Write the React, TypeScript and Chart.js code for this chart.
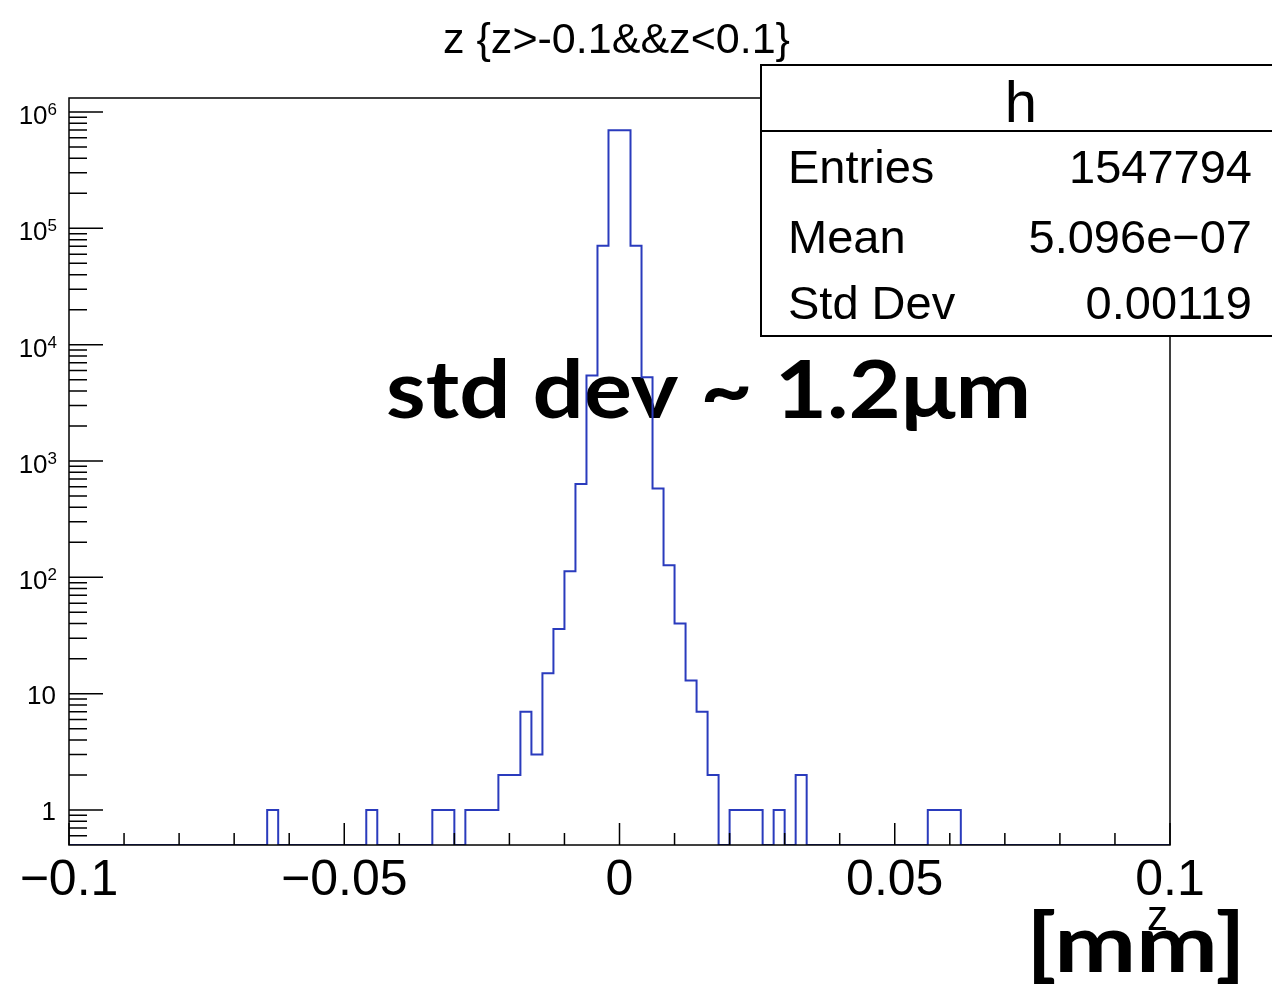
import React, { useEffect, useRef } from 'react';
import { Chart, registerables } from 'chart.js';

Chart.register(...registerables);

// ---- data ----
const X_MIN = -0.1;
const X_MAX = 0.1;
const BIN_WIDTH = 0.002;
const Y_MIN = 0.5;
const Y_MAX = 1.32e6;

const binCounts = [
  0, 0, 0, 0, 0, 0, 0, 0, 0, 0,
  0, 0, 0, 0, 0, 0, 0, 0, 1, 0,
  0, 0, 0, 0, 0, 0, 0, 1, 0, 0,
  0, 0, 0, 1, 1, 0, 1, 1, 1, 2,
  2, 7, 3, 15, 36, 113, 635, 5420, 71000, 697000,
  697000, 71000, 5250, 579, 127, 40, 13, 7, 2, 0,
  1, 1, 1, 0, 1, 0, 2, 0, 0, 0,
  0, 0, 0, 0, 0, 0, 0, 0, 1, 1,
  1, 0, 0, 0, 0, 0, 0, 0, 0, 0,
  0, 0, 0, 0, 0, 0, 0, 0, 0, 0,
];

const xMajorTicks = [-0.1, -0.05, 0, 0.05, 0.1];
const xMajorLabels = ['\u22120.1', '\u22120.05', '0', '0.05', '0.1'];
const xMinorStep = 0.01;

const yMajorTicks = [1, 10, 100, 1000, 10000, 100000, 1000000];
const yLabelBase = ['1', '10', '10', '10', '10', '10', '10'];
const yLabelExp = ['', '', '2', '3', '4', '5', '6'];

const titleText = 'z {z>-0.1&&z<0.1}';
const xAxisTitle = 'z';
const statsTitle = 'h';
const statsNames = ['Entries', 'Mean', 'Std Dev'];
const statsValues = ['1547794', '5.096e\u221207', '0.00119'];
const annotationText = 'std dev ~ 1.2\u03bcm';
const unitText = '[mm]';

const ROOT_FONT = '"Liberation Sans", Arial, Helvetica, sans-serif';
const BOLD_FONT = 'Lato, "Open Sans", "DejaVu Sans", sans-serif';
const LINE_COLOR = '#2a3bbd';

function fitText(ctx: CanvasRenderingContext2D, text: string, x: number, y: number, width: number) {
  const w = ctx.measureText(text).width;
  ctx.save();
  ctx.translate(x, y);
  ctx.scale(width / w, 1);
  ctx.textAlign = 'left';
  ctx.fillText(text, 0, 0);
  ctx.restore();
}

const rootPlugin = {
  id: 'rootDecor',
  beforeDatasetsDraw(chart: any) {
    const ctx: CanvasRenderingContext2D = chart.ctx;
    ctx.save();
    ctx.fillStyle = '#000';
    ctx.textBaseline = 'alphabetic';
    ctx.font = `bold 80px ${BOLD_FONT}`;
    fitText(ctx, annotationText, 386, 418, 645);
    ctx.restore();
  },
  afterDatasetsDraw(chart: any) {
    const ctx: CanvasRenderingContext2D = chart.ctx;
    const xs = chart.scales.x;
    const ys = chart.scales.y;
    const { left, right, top, bottom } = chart.chartArea;
    ctx.save();
    ctx.strokeStyle = '#000';
    ctx.fillStyle = '#000';
    ctx.lineWidth = 1.5;
    // frame
    ctx.strokeRect(left, top, right - left, bottom - top);

    // x ticks
    ctx.beginPath();
    for (let j = Math.round(X_MIN / xMinorStep); j <= Math.round(X_MAX / xMinorStep); j++) {
      const v = j * xMinorStep;
      const px = xs.getPixelForValue(v);
      const len = j % 5 === 0 ? 22 : 12;
      ctx.moveTo(px, bottom);
      ctx.lineTo(px, bottom - len);
    }
    // y ticks
    for (let k = -1; k <= 6; k++) {
      for (let m = 1; m <= 9; m++) {
        const v = m * Math.pow(10, k);
        if (v < Y_MIN * 1.0001 || v > Y_MAX) continue;
        const py = ys.getPixelForValue(v);
        const len = m === 1 ? 34 : 18;
        ctx.moveTo(left, py);
        ctx.lineTo(left + len, py);
      }
    }
    ctx.stroke();

    // x tick labels
    ctx.font = `50px ${ROOT_FONT}`;
    ctx.textAlign = 'center';
    ctx.textBaseline = 'alphabetic';
    xMajorTicks.forEach((v, i) => {
      ctx.fillText(xMajorLabels[i], xs.getPixelForValue(v), 895);
    });

    // y tick labels
    yMajorTicks.forEach((v, i) => {
      const py = ys.getPixelForValue(v);
      const rightEdge = 57;
      if (yLabelExp[i]) {
        ctx.font = `17px ${ROOT_FONT}`;
        ctx.textAlign = 'right';
        ctx.fillText(yLabelExp[i], rightEdge, py + 3);
        const ew = ctx.measureText(yLabelExp[i]).width;
        ctx.font = `26px ${ROOT_FONT}`;
        ctx.fillText(yLabelBase[i], rightEdge - ew, py + 12);
      } else {
        ctx.font = `26px ${ROOT_FONT}`;
        ctx.textAlign = 'right';
        ctx.fillText(yLabelBase[i], rightEdge - 1, py + 10);
      }
    });

    // title
    ctx.font = `42px ${ROOT_FONT}`;
    fitText(ctx, titleText, 443, 53, 347);

    // x axis title
    ctx.font = `42px ${ROOT_FONT}`;
    ctx.textAlign = 'right';
    ctx.fillText(xAxisTitle, 1168, 930);

    // stats box
    const bx = 761, by = 65, bw = 530, bh = 271;
    ctx.fillStyle = '#fff';
    ctx.fillRect(bx, by, bw, bh);
    ctx.lineWidth = 2;
    ctx.strokeRect(bx, by, bw, bh);
    ctx.beginPath();
    ctx.moveTo(bx, 131);
    ctx.lineTo(bx + bw, 131);
    ctx.stroke();
    ctx.fillStyle = '#000';
    ctx.font = `58px ${ROOT_FONT}`;
    ctx.textAlign = 'center';
    ctx.fillText(statsTitle, 1021, 122);
    const rowY = [183, 253, 319];
    ctx.font = `47px ${ROOT_FONT}`;
    statsNames.forEach((n, i) => {
      ctx.textAlign = 'left';
      ctx.fillText(n, 788, rowY[i]);
      ctx.textAlign = 'right';
      ctx.fillText(statsValues[i], 1252, rowY[i]);
    });

    // unit label
    ctx.font = `bold 80px ${BOLD_FONT}`;
    ctx.textAlign = 'left';
    fitText(ctx, unitText, 1026, 972, 220);
    ctx.restore();
  },
};

export default function App() {
  const canvasRef = useRef<HTMLCanvasElement | null>(null);

  useEffect(() => {
    const canvas = canvasRef.current;
    if (!canvas) return;
    const outline: { x: number; y: number }[] = [];
    binCounts.forEach((c, i) => {
      const x0 = X_MIN + i * BIN_WIDTH;
      const x1 = x0 + BIN_WIDTH;
      const y = c > 0 ? c : Y_MIN;
      outline.push({ x: x0, y });
      outline.push({ x: x1, y });
    });

    const chart = new Chart(canvas, {
      type: 'line',
      data: {
        datasets: [
          {
            label: 'h',
            data: outline,
            borderColor: LINE_COLOR,
            borderWidth: 2,
            pointRadius: 0,
            fill: false,
            tension: 0,
          },
        ],
      },
      options: {
        responsive: false,
        animation: false,
        devicePixelRatio: 1,
        layout: { padding: { left: 69, right: 102, top: 98, bottom: 145 } },
        plugins: {
          legend: { display: false },
          tooltip: { enabled: false },
          title: { display: false },
        },
        scales: {
          x: { type: 'linear', min: X_MIN, max: X_MAX, display: false },
          y: { type: 'logarithmic', min: Y_MIN, max: Y_MAX, display: false },
        },
      },
      plugins: [rootPlugin],
    } as any);
    return () => chart.destroy();
  }, []);

  return (
    <div style={{ position: 'absolute', left: 0, top: 0, width: 1272, height: 990, background: '#fff' }}>
      <canvas ref={canvasRef} width={1272} height={990} style={{ width: 1272, height: 990, display: 'block' }} />
    </div>
  );
}
